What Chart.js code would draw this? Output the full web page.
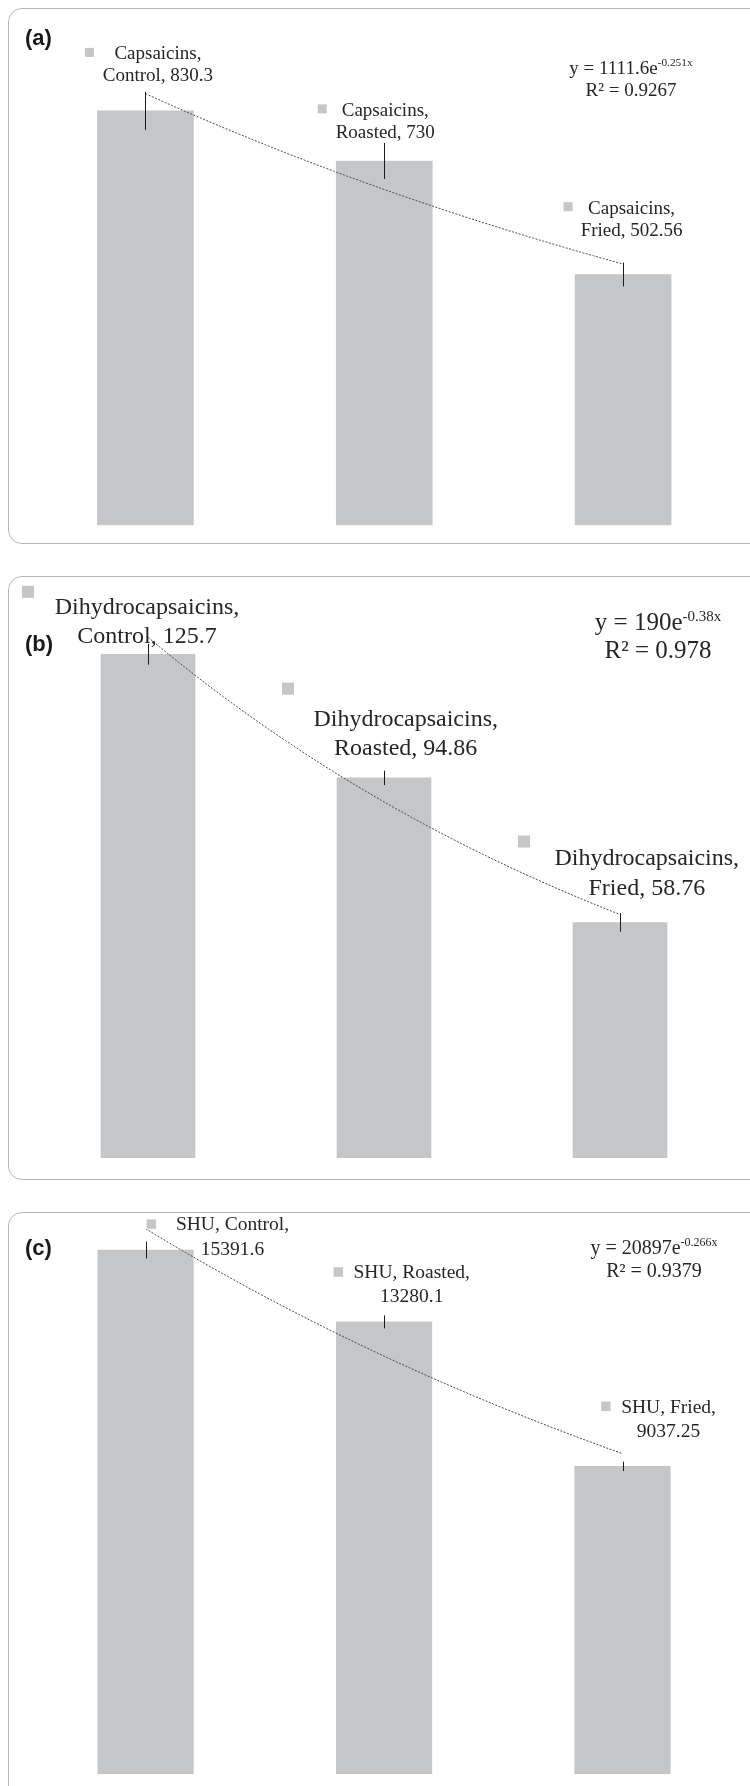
<!DOCTYPE html>
<html>
<head>
<meta charset="utf-8">
<script src="https://cdn.jsdelivr.net/npm/chart.js@4.4.1/dist/chart.umd.min.js"></script>
<style>
  html, body { margin: 0; padding: 0; background: #ffffff; }
  body { width: 750px; height: 1786px; overflow: hidden; position: relative; }
  .frame { position: absolute; left: 8px; width: 800px; border: 1px solid #b6b6b6; border-radius: 14px; box-sizing: border-box; }
  .holder { position: absolute; left: 0; width: 750px; }
  canvas { display: block; }
</style>
</head>
<body>
<div class="frame" style="top:8px;height:536px"></div>
<div class="frame" style="top:576px;height:604px"></div>
<div class="frame" style="top:1212px;height:640px"></div>

<div class="holder" style="top:0px;height:560px"><canvas id="chartA" width="750" height="560"></canvas></div>
<div class="holder" style="top:560px;height:635px"><canvas id="chartB" width="750" height="635"></canvas></div>
<div class="holder" style="top:1190px;height:596px"><canvas id="chartC" width="750" height="596"></canvas></div>

<script>
// Treatments shown on every panel
const categories = ['Control', 'Roasted', 'Fried'];

// (a) capsaicins
const capsaicins = [830.3, 730, 502.56];
const capsaicinsErr = [38, 36, 24];

// (b) dihydrocapsaicins
const dihydrocapsaicins = [125.7, 94.86, 58.76];
const dihydrocapsaicinsErr = [2.6, 1.8, 2.3];

// (c) Scoville heat units
const shu = [15391.6, 13280.1, 9037.25];
const shuErr = [247, 192, 137];

// Exponential trendlines y = coef * e^(rate * x), one per panel
const trendCoef = [1111.6, 190, 20897];
const trendRate = [-0.251, -0.38, -0.266];
const trendR2 = [0.9267, 0.978, 0.9379];

const seriesNames = ['Capsaicins', 'Dihydrocapsaicins', 'SHU'];
const panelTags = ['(a)', '(b)', '(c)'];

const BAR_COLOR = '#c5c6c8';
const TEXT_COLOR = '#262626';
const SERIF = '"Liberation Serif", "Times New Roman", serif';
const SANS = '"Liberation Sans", Arial, sans-serif';

// Layout of each panel: chart area padding, label placement relative to the bar top
const layouts = [
  {
    canvas: 'chartA', yMax: 1000, barThickness: 96,
    padding: { left: 26, right: 7.5, top: 26.2, bottom: 34.7 },
    font: 19, lineHeight: 22, marker: 9, wrap: 'series',
    labels: [
      { dx: 12.5, dy: -52.2, mx: -56, my: -58.5 },
      { dx: 1, dy: -45.3, mx: -62, my: -52.1 },
      { dx: 8.5, dy: -60.8, mx: -55, my: -67.8 }
    ],
    eq: { x: 631, y: 73.7, font: 19, lineHeight: 22 },
    tag: { x: 25, y: 44.5 }
  },
  {
    canvas: 'chartB', yMax: 140, barThickness: 94,
    padding: { left: 30, right: 12, top: 36.9, bottom: 37 },
    font: 24, lineHeight: 29.6, marker: 12, wrap: 'series',
    labels: [
      { dx: -1, dy: -40.7, mx: -120, my: -62.4 },
      { dx: 21.7, dy: -52.2, mx: -96, my: -89.1 },
      { dx: 26.8, dy: -57.3, mx: -96, my: -81 }
    ],
    eq: { x: 658, y: 70, font: 25, lineHeight: 27.7 },
    tag: { x: 25, y: 90.5 }
  },
  {
    canvas: 'chartC', yMax: 16000, barThickness: 95.5,
    padding: { left: 26.3, right: 8.2, top: 39.3, bottom: 12 },
    font: 19.5, lineHeight: 24.5, marker: 9.5, wrap: 'category',
    labels: [
      { dx: 87, dy: -20, mx: 5.8, my: -25.9 },
      { dx: 27.7, dy: -44.2, mx: -45.7, my: -49.9 },
      { dx: 46, dy: -53.6, mx: -16.7, my: -60 }
    ],
    eq: { x: 654, y: 64, font: 20, lineHeight: 23 },
    tag: { x: 25, y: 64.5 }
  }
];

const panelValues = [capsaicins, dihydrocapsaicins, shu];
const panelErrors = [capsaicinsErr, dihydrocapsaicinsErr, shuErr];

// bars sit at positions 1, 2, 3 on a shared linear x axis so the trendline lines up with them
function barPoints(p) {
  return panelValues[p].map((v, i) => ({ x: i + 1, y: v }));
}

function trendPoints(p) {
  const pts = [];
  const n = 48;
  for (let k = 0; k <= n; k++) {
    const x = 1 + 2 * k / n;
    pts.push({ x: x, y: trendCoef[p] * Math.exp(trendRate[p] * x) });
  }
  return pts;
}

function makeAnnotations(p) {
  const L = layouts[p];
  const values = panelValues[p];
  const errors = panelErrors[p];
  return {
    id: 'annotations' + p,
    afterDatasetsDraw(chart) {
      const ctx = chart.ctx;
      const y = chart.scales.y;
      const bars = chart.getDatasetMeta(0).data;
      ctx.save();

      // error bars (no caps)
      ctx.strokeStyle = '#1c1c1c';
      ctx.lineWidth = 1;
      bars.forEach((bar, i) => {
        const x = Math.round(bar.x) + 0.5;
        ctx.beginPath();
        ctx.moveTo(x, y.getPixelForValue(values[i] + errors[i]));
        ctx.lineTo(x, y.getPixelForValue(values[i] - errors[i]));
        ctx.stroke();
      });

      // data labels with legend key
      ctx.textAlign = 'center';
      ctx.textBaseline = 'alphabetic';
      ctx.font = L.font + 'px ' + SERIF;
      bars.forEach((bar, i) => {
        const pos = L.labels[i];
        const lines = L.wrap === 'series'
          ? [seriesNames[p] + ',', categories[i] + ', ' + values[i]]
          : [seriesNames[p] + ', ' + categories[i] + ',', String(values[i])];
        ctx.fillStyle = TEXT_COLOR;
        lines.forEach((t, k) => ctx.fillText(t, bar.x + pos.dx, bar.y + pos.dy + k * L.lineHeight));
        ctx.fillStyle = BAR_COLOR;
        const s = L.marker;
        ctx.fillRect(bar.x + pos.mx - s / 2, bar.y + pos.my - s / 2, s, s);
      });

      // trendline equation and R squared
      const E = L.eq;
      const main = 'y = ' + trendCoef[p] + 'e';
      const sup = String(trendRate[p]) + 'x';
      const supSize = E.font * 0.6;
      ctx.font = E.font + 'px ' + SERIF;
      const wMain = ctx.measureText(main).width;
      ctx.font = supSize + 'px ' + SERIF;
      const wSup = ctx.measureText(sup).width;
      const x0 = E.x - (wMain + wSup) / 2;
      ctx.fillStyle = TEXT_COLOR;
      ctx.textAlign = 'left';
      ctx.font = E.font + 'px ' + SERIF;
      ctx.fillText(main, x0, E.y);
      ctx.font = supSize + 'px ' + SERIF;
      ctx.fillText(sup, x0 + wMain, E.y - E.font * 0.38);
      ctx.textAlign = 'center';
      ctx.font = E.font + 'px ' + SERIF;
      ctx.fillText('R\u00B2 = ' + trendR2[p], E.x, E.y + E.lineHeight);

      // panel tag
      ctx.textAlign = 'left';
      ctx.font = 'bold 22px ' + SANS;
      ctx.fillStyle = '#1a1a1a';
      ctx.fillText(panelTags[p], L.tag.x, L.tag.y);

      ctx.restore();
    }
  };
}

layouts.forEach((L, p) => {
  new Chart(document.getElementById(L.canvas), {
    type: 'bar',
    data: {
      datasets: [
        {
          type: 'bar',
          label: seriesNames[p],
          data: barPoints(p),
          backgroundColor: BAR_COLOR,
          borderWidth: 0,
          barThickness: L.barThickness,
          order: 2
        },
        {
          type: 'line',
          label: 'Expon. (' + seriesNames[p] + ')',
          data: trendPoints(p),
          borderColor: '#4a4a4a',
          borderWidth: 1,
          borderDash: [2, 1.5],
          pointRadius: 0,
          fill: false,
          tension: 0,
          order: 1
        }
      ]
    },
    options: {
      responsive: false,
      animation: false,
      devicePixelRatio: 1,
      layout: { padding: L.padding },
      plugins: { legend: { display: false }, tooltip: { enabled: false }, title: { display: false } },
      scales: {
        x: { type: 'linear', display: false, offset: false, min: 0.5, max: 3.5, grid: { display: false } },
        y: { type: 'linear', display: false, min: 0, max: L.yMax }
      }
    },
    plugins: [makeAnnotations(p)]
  });
});
</script>
</body>
</html>
